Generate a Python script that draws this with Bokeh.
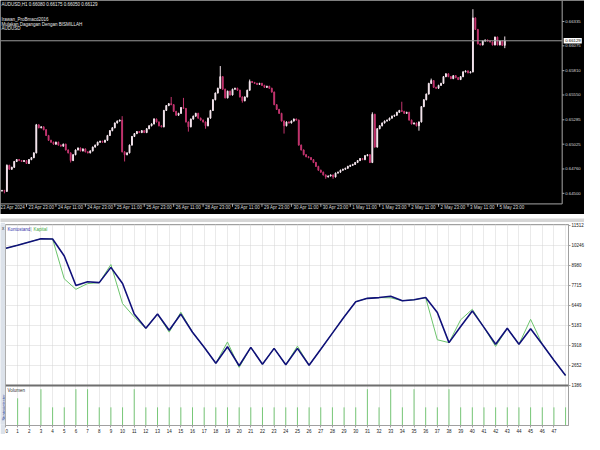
import math
from bokeh.plotting import figure
from bokeh.models import (ColumnDataSource, LinearAxis, FixedTicker, Range1d, Label, Span, Grid)
from bokeh.layouts import column, row
from bokeh.embed import file_html
from bokeh.resources import INLINE
from bokeh.core.properties import value

# ---------------- price chart data (AUDUSD, H1) ----------------
first_open = 0.64525
close = [
    0.64531, 0.64521, 0.64799, 0.64757, 0.64778, 0.64840, 0.64860, 0.64850, 0.64840, 0.64850,
    0.64819, 0.64860, 0.64881, 0.64932, 0.65231, 0.65200, 0.65210, 0.65179, 0.65118, 0.65066,
    0.65046, 0.65025, 0.65046, 0.65015, 0.65004, 0.65025, 0.64963, 0.64932, 0.64850, 0.64912,
    0.64963, 0.64984, 0.64953, 0.64974, 0.64943, 0.64932, 0.64953, 0.64994, 0.65015, 0.65046,
    0.65056, 0.65046, 0.65066, 0.65118, 0.65169, 0.65200, 0.65251, 0.65272, 0.65282, 0.64943,
    0.64912, 0.64932, 0.65015, 0.65107, 0.65138, 0.65159, 0.65149, 0.65169, 0.65149, 0.65190,
    0.65221, 0.65241, 0.65293, 0.65262, 0.65221, 0.65210, 0.65385, 0.65437, 0.65457, 0.65447,
    0.65375, 0.65334, 0.65354, 0.65416, 0.65406, 0.65262, 0.65210, 0.65293, 0.65324, 0.65354,
    0.65303, 0.65282, 0.65262, 0.65221, 0.65303, 0.65385, 0.65499, 0.65571, 0.65622, 0.65746,
    0.65612, 0.65519, 0.65591, 0.65550, 0.65612, 0.65622, 0.65601, 0.65529, 0.65488, 0.65529,
    0.65601, 0.65694, 0.65684, 0.65674, 0.65663, 0.65674, 0.65653, 0.65632, 0.65643, 0.65622,
    0.65581, 0.65447, 0.65396, 0.65354, 0.65272, 0.65221, 0.65262, 0.65251, 0.65272, 0.65293,
    0.65282, 0.65015, 0.64963, 0.64912, 0.64891, 0.64881, 0.64860, 0.64829, 0.64788, 0.64747,
    0.64726, 0.64696, 0.64675, 0.64685, 0.64696, 0.64675, 0.64716, 0.64726, 0.64747, 0.64757,
    0.64768, 0.64788, 0.64799, 0.64809, 0.64829, 0.64850, 0.64871, 0.64860, 0.64902, 0.64912,
    0.64829, 0.65344, 0.64994, 0.65190, 0.65221, 0.65251, 0.65272, 0.65282, 0.65303, 0.65324,
    0.65334, 0.65365, 0.65385, 0.65375, 0.65354, 0.65365, 0.65282, 0.65241, 0.65251, 0.65221,
    0.65262, 0.65426, 0.65499, 0.65560, 0.65674, 0.65704, 0.65632, 0.65622, 0.65653, 0.65674,
    0.65746, 0.65776, 0.65746, 0.65725, 0.65756, 0.65735, 0.65715, 0.65746, 0.65797, 0.65807,
    0.65787, 0.65797, 0.66373, 0.66250, 0.66096, 0.66085, 0.66126, 0.66137, 0.66126, 0.66116,
    0.66085, 0.66168, 0.66085, 0.66126, 0.66080, 0.66129,
]
# notable wick extremes (bar index -> price)
high_wick = {2: 0.64809, 14: 0.65241, 49: 0.65324, 62: 0.65303, 69: 0.65529, 74: 0.65519,
             89: 0.65859, 101: 0.65715, 151: 0.65365, 163: 0.65478, 175: 0.65725,
             192: 0.66466, 205: 0.66175}
low_wick = {1: 0.64500, 28: 0.64829, 50: 0.64840, 76: 0.65159, 83: 0.65190, 98: 0.65468,
            115: 0.65138, 132: 0.64655, 135: 0.64655, 170: 0.65169, 205: 0.66050}

price_ticks = [0.64500, 0.64760, 0.65025, 0.65285, 0.65550, 0.65810, 0.66075, 0.66335]
price_labels = ["0.64500", "0.64760", "0.65025", "0.65285", "0.65550", "0.65810", "0.66075", "0.66335"]
last_bid = 0.66129
last_bid_label = "0.66129"
date_tick_bars = [-2, 10, 22, 34, 46, 58, 70, 82, 94, 106, 118, 130, 142, 154, 166, 178, 190, 202]
date_labels = ["23 Apr 2024", "23 Apr 23:00", "24 Apr 11:00", "24 Apr 23:00", "25 Apr 11:00",
               "25 Apr 23:00", "26 Apr 11:00", "28 Apr 23:00", "29 Apr 11:00", "29 Apr 23:00",
               "30 Apr 11:00", "30 Apr 23:00", "1 May 11:00", "1 May 23:00", "2 May 11:00",
               "2 May 23:00", "3 May 11:00", "5 May 23:00"]
header_lines = ["AUDUSD,H1  0.66080 0.66175 0.66050 0.66129", "",
                "Irawan_ProBmacd2016", "Mulakan Dagangan Dengan BISMILLAH", "AUDUSD"]

# ---------------- tester graph data ----------------
trade_no = list(range(49))
balance = [10050, 10248, 10452, 10651, 10640, 9568, 7703, 7943, 7883, 8846,
           7823, 5898, 4996, 5898, 4875, 5898, 4750, 3800, 2788, 3835,
           2631, 3792, 2728, 3732, 2691, 3732, 2667, 3672, 4695, 5718,
           6680, 6891, 6939, 7023, 6740, 6800, 6939, 6000, 4093, 5116,
           6097, 5056, 3991, 4996, 3991, 4966, 3991, 2980, 2018]
equity = [10050, 10248, 10452, 10651, 10640, 8124, 7462, 7823, 7883, 9026,
          6560, 5718, 4996, 5898, 4755, 6018, 4750, 3800, 2788, 4135,
          2529, 3792, 2728, 3732, 2691, 3871, 2667, 3672, 4695, 5718,
          6680, 6891, 6939, 6921, 6740, 6800, 6939, 4274, 4093, 5537,
          6199, 5056, 3853, 4996, 3991, 5567, 3991, 2980, 2018]
eq_ticks = [1386, 2652, 3918, 5183, 6449, 7715, 8980, 10246, 11512]
vol_trade = list(range(1, 49))
volume = [0.03, 0.02, 0.04, 0.02, 0.02, 0.04, 0.04, 0.02, 0.02, 0.02,
          0.04, 0.02, 0.02, 0.02, 0.02, 0.02, 0.02, 0.02, 0.02, 0.02,
          0.02, 0.02, 0.02, 0.02, 0.02, 0.02, 0.02, 0.02, 0.02, 0.02,
          0.04, 0.02, 0.04, 0.02, 0.04, 0.02, 0.02, 0.04, 0.02, 0.02,
          0.02, 0.02, 0.02, 0.02, 0.02, 0.02, 0.02, 0.02]

# ---------------- styles ----------------
FONT = "Liberation Sans"
BULL = "#F3E4EC"
BEAR = "#C2346E"
AXC = "#A8A8A8"
TXT = "#DADADA"
WICK_PAD = 0.00006

opens = [first_open] + close[:-1]
bars = list(range(len(close)))
highs = [high_wick.get(i, max(o, c) + WICK_PAD) for i, (o, c) in enumerate(zip(opens, close))]
lows = [low_wick.get(i, min(o, c) - WICK_PAD) for i, (o, c) in enumerate(zip(opens, close))]
colors = [BULL if c >= o else BEAR for o, c in zip(opens, close)]
src = ColumnDataSource(dict(x=bars, h=highs, l=lows,
                            top=[max(o, c) for o, c in zip(opens, close)],
                            bot=[min(o, c) for o, c in zip(opens, close)],
                            color=colors))

# ---------------- top: candlestick chart (price scale drawn at its right edge) ----------------
X0, X_AXIS, X1 = -0.6, 228.4, 237.5          # left edge, price-scale line, right edge (bars)
Y_BOT, Y_BORDER, Y_TOP = 0.64274, 0.64387, 0.66559
top = figure(width=584, height=214, min_border=0,
             x_range=Range1d(X0, X1), y_range=Range1d(Y_BOT, Y_TOP),
             x_axis_type=None, y_axis_type=None, toolbar_location=None, output_backend="svg",
             background_fill_color="black", border_fill_color="black", outline_line_color=None)
top.segment(x0="x", y0="l", x1="x", y1="h", line_color="color", line_width=1, source=src)
top.vbar(x="x", width=0.35, top="top", bottom="bot", fill_color="color", line_color="color",
         line_width=1, source=src)

# frame lines of the price window
top.segment(x0=[X0, X_AXIS], y0=[Y_BORDER, Y_BORDER], x1=[X_AXIS, X_AXIS], y1=[Y_BORDER, Y_TOP],
            line_color=AXC, line_width=1)
# price scale
n = len(price_ticks)
top.segment(x0=[X_AXIS] * n, y0=price_ticks, x1=[X_AXIS + 0.9] * n, y1=price_ticks,
            line_color=AXC, line_width=1)
top.text(x=[X_AXIS] * n, y=price_ticks, text=price_labels, x_offset=3, text_align="left",
         text_baseline="middle", text_color=TXT, text_font_size="4.3px", text_font=value(FONT))
# bid line + its marker box
top.segment(x0=[X0], y0=[last_bid], x1=[X_AXIS], y1=[last_bid], line_color="#9A9A9A", line_width=1)
top.quad(left=[X_AXIS + 0.6], right=[X_AXIS + 8.0], bottom=[last_bid - 0.0003],
         top=[last_bid + 0.0003], fill_color="white", line_color=None)
top.text(x=[X_AXIS], y=[last_bid], text=[last_bid_label], x_offset=3, text_align="left",
         text_baseline="middle", text_color="black", text_font_size="4.3px", text_font=value(FONT))
# time scale
top.segment(x0=date_tick_bars, y0=[Y_BORDER] * len(date_tick_bars), x1=date_tick_bars,
            y1=[0.64356] * len(date_tick_bars), line_color=AXC, line_width=1)
top.text(x=[X0] + date_tick_bars[1:], y=[Y_BORDER] * len(date_tick_bars), text=date_labels,
         x_offset=[0] + [2] * (len(date_tick_bars) - 1),
         y_offset=1, text_align="left", text_baseline="top", text_color=TXT,
         text_font_size="4.5px", text_font=value(FONT))
for k, line in enumerate(header_lines):
    if line:
        top.add_layout(Label(x=X0, y=Y_TOP, x_offset=1, y_offset=-1.5 - 4.6 * k - (6 if k >= 2 else 0),
                             text=line, text_baseline="top", text_color="#E8E8E8",
                             text_font_size="4.5px", text_font=FONT))

# ---------------- separator strip ----------------
sep = figure(width=584, height=8, min_border=0, x_range=Range1d(0, 1), y_range=Range1d(0, 1),
             x_axis_type=None, y_axis_type=None, toolbar_location=None, output_backend="svg",
             background_fill_color="#D6D6D6", border_fill_color="#D6D6D6", outline_line_color=None)
sep.segment(x0=[0], y0=[0.06], x1=[1], y1=[0.06], line_color="#B4B4B4", line_width=1)

# ---------------- left side tab ----------------
strip = figure(width=5, height=212, min_border=0, x_range=Range1d(0, 1), y_range=Range1d(0, 1),
               x_axis_type=None, y_axis_type=None, toolbar_location=None, output_backend="svg",
               background_fill_color="#DCE2EA", border_fill_color="#DCE2EA", outline_line_color=None)
strip.text(x=[0.5], y=[0.995], text=["x"], text_align="center", text_baseline="top",
           text_color="#303030", text_font_size="4.5px", text_font=value(FONT))
strip.text(x=[0.5], y=[0.02], text=["Strategietester"], angle=math.pi / 2, text_align="left",
           text_baseline="middle", text_color="#2848A0", text_font_size="4px", text_font=value(FONT))

# ---------------- bottom: balance / equity + volume ----------------
bot = figure(frame_width=563, frame_height=201, min_border_left=0, min_border_right=16,
             min_border_top=2, min_border_bottom=9,
             x_range=Range1d(-0.04, 48.25), y_range=Range1d(-1141, 11555),
             x_axis_type=None, y_axis_type=None, toolbar_location=None, output_backend="svg",
             background_fill_color="white", border_fill_color="white",
             outline_line_color="#A0A0A0", outline_line_width=1)
bot.extra_y_ranges = {"vol": Range1d(0, 0.2216)}
bot.add_layout(Grid(dimension=0, ticker=FixedTicker(ticks=trade_no), grid_line_color="#D4D4D4",
                    grid_line_dash="1 1"))
bot.add_layout(Grid(dimension=1, ticker=FixedTicker(ticks=eq_ticks), grid_line_color="#D4D4D4",
                    grid_line_dash="1 1"))
bot.segment(x0=vol_trade, y0=[0] * len(vol_trade), x1=vol_trade, y1=volume, y_range_name="vol",
            line_color="#78C878", line_width=1)
bot.line(trade_no, equity, line_color="#6CC46C", line_width=1)
bot.line(trade_no, balance, line_color="#10107A", line_width=1.6)
bot.add_layout(Span(location=1386, dimension="width", line_color="#6E6E6E", line_width=2))

eax = LinearAxis(ticker=FixedTicker(ticks=eq_ticks), axis_line_color="#A0A0A0",
                 major_tick_line_color="#A0A0A0", major_tick_in=0, major_tick_out=2,
                 minor_tick_line_color=None, major_label_standoff=1, major_label_text_color="#202020",
                 major_label_text_font_size="4.5px", major_label_text_font=FONT)
bot.add_layout(eax, "right")
xax = LinearAxis(ticker=FixedTicker(ticks=list(range(48))), axis_line_color="#A0A0A0",
                 major_tick_line_color="#A0A0A0", major_tick_in=0, major_tick_out=2,
                 minor_tick_line_color=None, major_label_standoff=1, major_label_text_color="#202020",
                 major_label_text_font_size="4.5px", major_label_text_font=FONT)
bot.add_layout(xax, "below")

bot.add_layout(Label(x=-0.04, y=11555, x_offset=2, y_offset=-2, text="Kontostand", text_baseline="top",
                     text_color="#3030A8", text_font_size="4.5px", text_font=FONT))
bot.add_layout(Label(x=-0.04, y=11555, x_offset=25, y_offset=-2, text="|", text_baseline="top",
                     text_color="#909090", text_font_size="4.5px", text_font=FONT))
bot.add_layout(Label(x=-0.04, y=11555, x_offset=28, y_offset=-2, text="Kapital", text_baseline="top",
                     text_color="#40A840", text_font_size="4.5px", text_font=FONT))
bot.add_layout(Label(x=-0.04, y=1386, x_offset=2, y_offset=-3, text="Volumen", text_baseline="top",
                     text_color="#303030", text_font_size="4.5px", text_font=FONT))

layout = column(top, sep, row(strip, bot))
open("out.html", "w").write(file_html(layout, INLINE))
